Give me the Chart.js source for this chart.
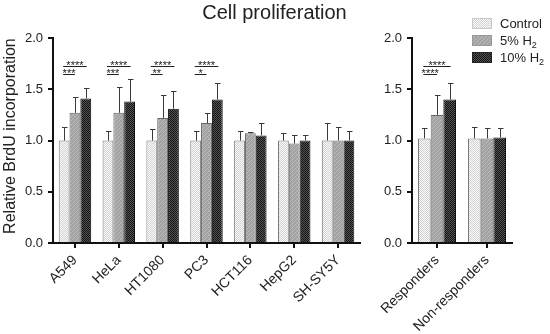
<!DOCTYPE html>
<html>
<head>
<meta charset="utf-8">
<script src="https://cdn.jsdelivr.net/npm/chart.js@4.4.0/dist/chart.umd.min.js"></script>
<style>
  body { margin: 0; background: #fff; font-family: "Liberation Sans", Arial, sans-serif; }
  #wrap { position: relative; width: 550px; height: 334px; overflow: hidden; }
  #left { position: absolute; left: 0; top: 0; }
  #right { position: absolute; left: 365px; top: 0; }
  #title { position: absolute; left: 0; top: 1px; width: 549px; text-align: center; font-size: 20px; line-height: 22px; color: #222; }
  #legend { position: absolute; left: 472px; top: 14.5px; font-size: 13px; color: #222; }
  .item { display: flex; align-items: center; height: 17px; }
  .item canvas { width: 20px; height: 11px; margin-right: 8px; }
  sub { font-size: 9px; line-height: 0; vertical-align: -3px; }
</style>
</head>
<body>
<div id="wrap">
  <canvas id="left" width="365" height="334"></canvas>
  <canvas id="right" width="185" height="334"></canvas>
  <div id="title">Cell proliferation</div>
  <div id="legend">
    <div class="item"><canvas id="sw0" width="20" height="11"></canvas><span>Control</span></div>
    <div class="item"><canvas id="sw1" width="20" height="11"></canvas><span>5% H<sub>2</sub></span></div>
    <div class="item"><canvas id="sw2" width="20" height="11"></canvas><span>10% H<sub>2</sub></span></div>
  </div>
</div>
<script>
// cell lines (left panel)
const cellLines = ['A549', 'HeLa', 'HT1080', 'PC3', 'HCT116', 'HepG2', 'SH-SY5Y'];
const control    = [1.00, 1.00, 1.00, 1.00, 1.00, 1.00, 1.00];
const controlErr = [0.13, 0.09, 0.11, 0.09, 0.09, 0.07, 0.17];
const h2Five     = [1.27, 1.27, 1.22, 1.17, 1.07, 0.97, 1.00];
const h2FiveErr  = [0.15, 0.25, 0.22, 0.10, 0.01, 0.08, 0.13];
const h2Ten      = [1.41, 1.38, 1.31, 1.40, 1.05, 1.00, 1.00];
const h2TenErr   = [0.10, 0.22, 0.17, 0.16, 0.12, 0.05, 0.09];
const sigTen     = ['****', '****', '****', '****', null, null, null];
const sigFive    = ['***', '***', '**', '*', null, null, null];

// pooled groups (right panel)
const groups        = ['Responders', 'Non-responders'];
const groupCtrl     = [1.02, 1.02];
const groupCtrlErr  = [0.10, 0.11];
const groupFive     = [1.25, 1.02];
const groupFiveErr  = [0.19, 0.10];
const groupTen      = [1.40, 1.03];
const groupTenErr   = [0.16, 0.09];
const groupSigTen   = ['****', null];
const groupSigFive  = ['****', null];

const yTicks = [0, 0.5, 1.0, 1.5, 2.0];
const sigTenLevel = 1.73, sigFiveLevel = 1.65;

function makePattern(kind) {
  const c = document.createElement('canvas');
  const g = c.getContext('2d');
  if (kind === 'dots') {
    c.width = 2; c.height = 2;
    g.fillStyle = '#fdfdfd'; g.fillRect(0, 0, 2, 2);
    g.fillStyle = '#d0d0d0'; g.fillRect(1, 0, 1, 1); g.fillRect(0, 1, 1, 1);
  } else if (kind === 'hatch') {
    c.width = 4; c.height = 4;
    g.fillStyle = '#a3a3a3'; g.fillRect(0, 0, 4, 4);
    g.fillStyle = '#bbbbbb';
    for (let i = 0; i < 4; i++) g.fillRect(i, 3 - i, 1, 1);
  } else {
    c.width = 2; c.height = 2;
    g.fillStyle = '#111'; g.fillRect(0, 0, 2, 2);
    g.fillStyle = '#555'; g.fillRect(1, 0, 1, 1); g.fillRect(0, 1, 1, 1);
  }
  return g.createPattern(c, 'repeat');
}

const fills = [makePattern('dots'), makePattern('hatch'), makePattern('check')];
const borders = ['#7a7a7a', '#666', '#111'];

// legend swatches
fills.forEach((f, i) => {
  const g = document.getElementById('sw' + i).getContext('2d');
  g.fillStyle = f; g.fillRect(0, 0, 20, 11);
  g.strokeStyle = i === 0 ? '#c8c8c8' : (i === 1 ? '#999' : '#222');
  g.strokeRect(0.5, 0.5, 19, 10);
});

// error bars + significance lines
const barExtras = {
  id: 'barExtras',
  afterDatasetsDraw(chart, args, opts) {
    const ctx = chart.ctx, y = chart.scales.y;
    ctx.save();
    ctx.strokeStyle = '#3a3a3a';
    ctx.lineWidth = 1;
    opts.errors.forEach((errs, di) => {
      const meta = chart.getDatasetMeta(di);
      meta.data.forEach((bar, i) => {
        const v = chart.data.datasets[di].data[i];
        const top = y.getPixelForValue(v);
        const end = Math.round(y.getPixelForValue(v + errs[i])) + 0.5;
        const x = Math.round(bar.x) + 0.5;
        ctx.beginPath();
        ctx.moveTo(x, top); ctx.lineTo(x, end);
        ctx.moveTo(x - 2.5, end); ctx.lineTo(x + 3, end);
        ctx.stroke();
      });
    });

    const m0 = chart.getDatasetMeta(0).data;
    const m1 = chart.getDatasetMeta(1).data;
    const m2 = chart.getDatasetMeta(2).data;
    ctx.strokeStyle = '#222';
    ctx.fillStyle = '#222';
    ctx.font = '11px "Liberation Sans", Arial, sans-serif';
    ctx.textAlign = 'center';
    ctx.textBaseline = 'alphabetic';
    function sig(x1, x2, level, label) {
      const ly = Math.round(y.getPixelForValue(level)) + 0.5;
      ctx.beginPath(); ctx.moveTo(x1, ly); ctx.lineTo(x2, ly); ctx.stroke();
      ctx.fillText(label, (x1 + x2) / 2, ly + 2.5);
    }
    opts.sigTen.forEach((s, i) => { if (s) sig(m0[i].x - 1, m2[i].x + 1, sigTenLevel, s); });
    opts.sigFive.forEach((s, i) => { if (s) sig(m0[i].x - 1, m1[i].x, sigFiveLevel, s); });
    ctx.restore();
  }
};

function axes(yWidth, withTitle) {
  return {
    x: {
      grid: { display: true, drawOnChartArea: false, offset: false, tickLength: 5, color: '#111', lineWidth: 2 },
      border: { color: '#111', width: 2 },
      ticks: { color: '#222', font: { size: 14 }, minRotation: 45, maxRotation: 45, autoSkip: false, padding: 4 },
      afterFit(s) { s.height = 91; }
    },
    y: {
      min: 0, max: 2,
      afterBuildTicks(s) { s.ticks = yTicks.map(v => ({ value: v })); },
      ticks: { color: '#222', font: { size: 13 }, padding: 5, callback: v => v.toFixed(1) },
      grid: { drawOnChartArea: false, tickLength: 5, color: '#111', lineWidth: 2 },
      border: { color: '#111', width: 2 },
      title: { display: withTitle, text: '\u00a0\u00a0Relative BrdU incorporation', color: '#222', font: { size: 16 }, padding: { top: 1, bottom: 0 } },
      afterFit(s) { s.width = yWidth; }
    }
  };
}

function datasets(a, b, c) {
  return [a, b, c].map((d, i) => ({
    label: ['Control', '5% H2', '10% H2'][i],
    data: d,
    backgroundColor: fills[i],
    borderColor: borders[i],
    borderWidth: 1,
    borderSkipped: 'bottom'
  }));
}

new Chart(document.getElementById('left'), {
  type: 'bar',
  data: { labels: cellLines, datasets: datasets(control, h2Five, h2Ten) },
  options: {
    responsive: false,
    animation: false,
    categoryPercentage: 0.74,
    barPercentage: 1,
    layout: { padding: { top: 38, right: 5, left: 0, bottom: 0 } },
    plugins: {
      legend: { display: false },
      tooltip: { enabled: false },
      barExtras: { errors: [controlErr, h2FiveErr, h2TenErr], sigTen: sigTen, sigFive: sigFive }
    },
    scales: axes(53, true)
  },
  plugins: [barExtras]
});

new Chart(document.getElementById('right'), {
  type: 'bar',
  data: { labels: groups, datasets: datasets(groupCtrl, groupFive, groupTen) },
  options: {
    responsive: false,
    animation: false,
    categoryPercentage: 0.76,
    barPercentage: 1,
    layout: { padding: { top: 38, right: 38, left: 0, bottom: 0 } },
    plugins: {
      legend: { display: false },
      tooltip: { enabled: false },
      barExtras: { errors: [groupCtrlErr, groupFiveErr, groupTenErr], sigTen: groupSigTen, sigFive: groupSigFive }
    },
    scales: axes(47, false)
  },
  plugins: [barExtras]
});
</script>
</body>
</html>
